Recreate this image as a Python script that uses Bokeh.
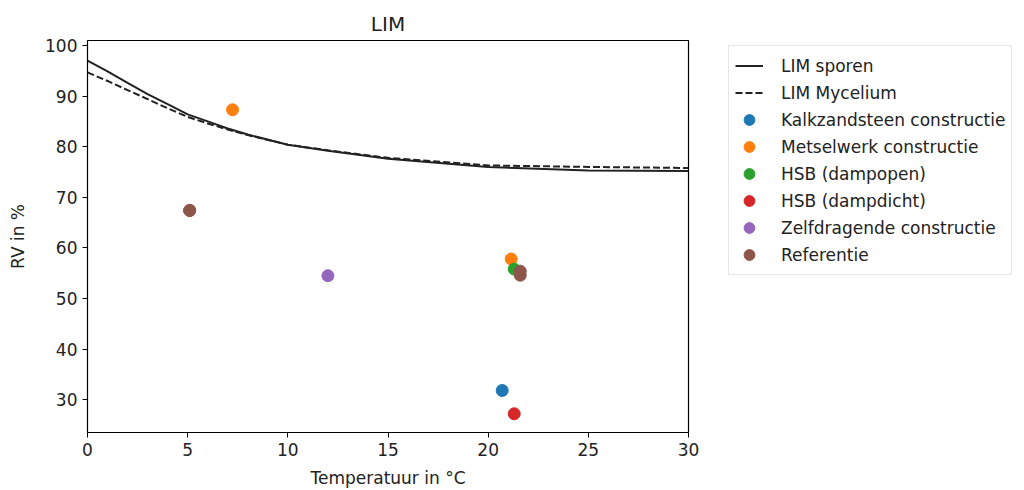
from bokeh.plotting import figure
from bokeh.models import Range1d, Legend, LegendItem, FixedTicker
from bokeh.embed import file_html
from bokeh.resources import INLINE

# LIM curves
lim_t = [0, 1, 2, 3, 4, 5, 6, 7, 8, 10, 12, 15, 20, 25, 30]
lim_sporen = [97.0, 94.9, 92.6, 90.4, 88.4, 86.4, 85.0, 83.6, 82.4, 80.4, 79.2, 77.6, 76.0, 75.3, 75.2]
lim_mycelium = [94.7, 93.0, 91.2, 89.4, 87.6, 85.9, 84.6, 83.4, 82.3, 80.4, 79.3, 77.8, 76.3, 76.0, 75.8]

series_names = ["Kalkzandsteen constructie", "Metselwerk constructie", "HSB (dampopen)",
                "HSB (dampdicht)", "Zelfdragende constructie", "Referentie"]
series_colors = ["#1f77b4", "#ff7f0e", "#2ca02c", "#d62728", "#9467bd", "#8c564b"]
series_t = [[20.7], [7.24, 21.15], [21.3], [5.1, 21.3], [12.0], [5.1, 21.6, 21.6]]
series_rv = [[31.8], [87.3, 57.8], [55.8], [67.4, 27.2], [54.5], [67.4, 55.4, 54.6]]

x_ticks = [0, 5, 10, 15, 20, 25, 30]
y_ticks = [30, 40, 50, 60, 70, 80, 90, 100]

FONT = "DejaVu Sans"
FS = "17px"

p = figure(frame_width=601, frame_height=392, min_border_left=87, min_border_right=336,
           min_border_top=40, min_border_bottom=58,
           x_range=Range1d(0, 30), y_range=Range1d(23.5, 101.0),
           output_backend="svg", toolbar_location=None, title="LIM")
p.title.align = "center"
p.title.text_font = FONT
p.title.text_font_size = "20px"
p.title.text_font_style = "normal"
p.title.text_color = "#222222"

p.xgrid.visible = False
p.ygrid.visible = False
p.outline_line_color = "black"
p.outline_line_width = 1.2
p.background_fill_color = "white"
p.border_fill_color = "white"

for ax in (p.xaxis[0], p.yaxis[0]):
    ax.axis_line_color = None
    ax.major_tick_out = 5
    ax.major_tick_in = 0
    ax.minor_tick_line_color = None
    ax.major_label_text_font = FONT
    ax.major_label_text_font_size = FS
    ax.major_label_text_color = "#222222"
    ax.axis_label_text_font = FONT
    ax.axis_label_text_font_size = FS
    ax.axis_label_text_font_style = "normal"
    ax.axis_label_text_color = "#222222"
p.xaxis.ticker = FixedTicker(ticks=x_ticks)
p.yaxis.ticker = FixedTicker(ticks=y_ticks)
p.xaxis.axis_label = "Temperatuur in °C"
p.yaxis.axis_label = "RV in %"
p.xaxis.axis_label_standoff = 9
p.yaxis.axis_label_standoff = 14

items = []
r1 = p.line(lim_t, lim_sporen, line_color="#222222", line_width=2)
items.append(LegendItem(label="LIM sporen", renderers=[r1]))
r2 = p.line(lim_t, lim_mycelium, line_color="#222222", line_width=2, line_dash="7 3")
items.append(LegendItem(label="LIM Mycelium", renderers=[r2]))

for name, col, ts, rvs in zip(series_names, series_colors, series_t, series_rv):
    r = p.scatter(ts, rvs, size=12, fill_color=col, line_color=col)
    items.append(LegendItem(label=name, renderers=[r]))

legend = Legend(items=items, location=(40, 157), margin=0)
legend.label_text_font = FONT
legend.label_text_font_size = FS
legend.label_text_color = "#222222"
legend.glyph_width = 28
legend.glyph_height = 27
legend.label_height = 27
legend.spacing = 0
legend.label_standoff = 18
legend.padding = 6
legend.border_line_color = "#cccccc"
legend.border_line_width = 1
legend.background_fill_alpha = 1.0
p.add_layout(legend, "right")

open("out.html", "w").write(file_html(p, INLINE))
